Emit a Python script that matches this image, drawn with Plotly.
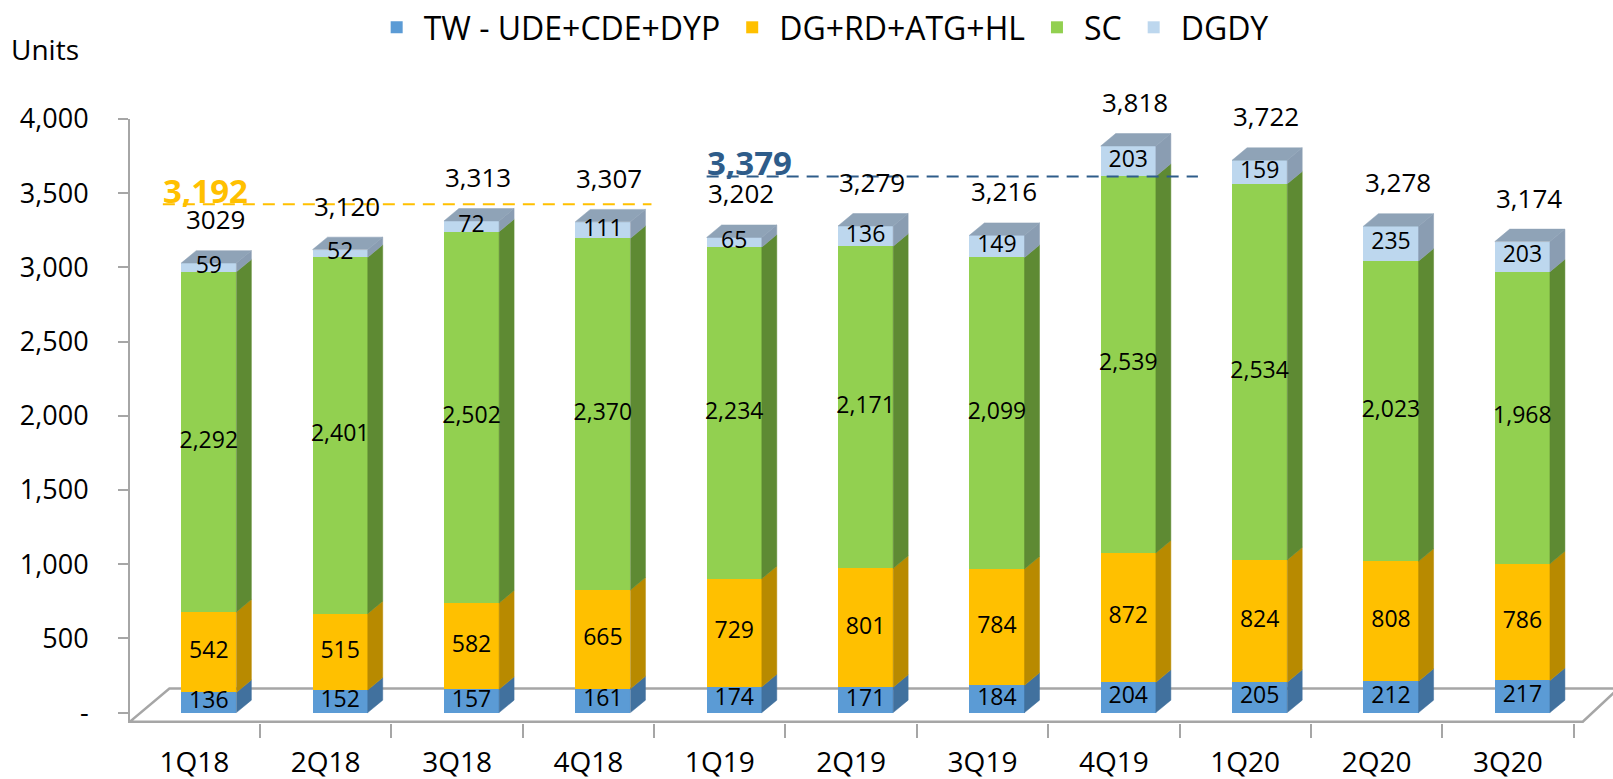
import plotly.graph_objects as go

# ---------------- data ----------------
quarters = ["1Q18", "2Q18", "3Q18", "4Q18", "1Q19", "2Q19", "3Q19", "4Q19", "1Q20", "2Q20", "3Q20"]
tw_ude_cde_dyp = [136, 152, 157, 161, 174, 171, 184, 204, 205, 212, 217]
dg_rd_atg_hl = [542, 515, 582, 665, 729, 801, 784, 872, 824, 808, 786]
sc = [2292, 2401, 2502, 2370, 2234, 2171, 2099, 2539, 2534, 2023, 1968]
dgdy = [59, 52, 72, 111, 65, 136, 149, 203, 159, 235, 203]
total_labels = ["3029", "3,120", "3,313", "3,307", "3,202", "3,279", "3,216", "3,818", "3,722", "3,278", "3,174"]
avg_groups = [(0, 3), (4, 7)]          # 2018 quarters, 2019 quarters
y_tick_vals = [0, 500, 1000, 1500, 2000, 2500, 3000, 3500, 4000]
y_tick_text = ["-", "500", "1,000", "1,500", "2,000", "2,500", "3,000", "3,500", "4,000"]

# ---------------- style ----------------
FONT = "Open Sans"
series = [
    ("TW - UDE+CDE+DYP", tw_ude_cde_dyp, "#5B9BD5", "#41719E"),
    ("DG+RD+ATG+HL", dg_rd_atg_hl, "#FFC000", "#B88A00"),
    ("SC", sc, "#92D050", "#5E8A33"),
    ("DGDY", dgdy, "#BDD7EE", "#8A9DB2"),
]
TOP_COLOR = "#8FA3B7"
AVG_COLORS = ["#FFC000", "#2E5C8A"]
AVG_PAD_L = [0.24, 0.10]
AVG_PAD_R = [0.48, 0.64]
BAR_W = 0.42
BAR_OFF = 0.11
DEPTH_X = 0.114
DEPTH_Y = 84
AVG_LIFT = 233
FLOOR_FRONT, FLOOR_BACK = -61, 162
FLOOR_DX = 0.27
X_MIN, X_MAX = -0.49, 10.8
Y_MIN, Y_MAX = -70, 4000
AXIS_GRAY = "#A6A6A6"

n = len(quarters)
xs = [i + BAR_OFF for i in range(n)]
totals = [sum(s[1][i] for s in series) for i in range(n)]

fig = go.Figure()

# front faces (stacked bars)
for name, vals, col, _ in series:
    fig.add_trace(go.Bar(
        x=xs, y=vals, name=name, width=BAR_W, marker=dict(color=col, line=dict(width=0)),
        hoverinfo="skip",
    ))

# side faces + labels
base = [0] * n
label_traces = []
for name, vals, col, side in series:
    px, py = [], []
    for i in range(n):
        b = base[i]
        t = b + vals[i]
        xr = xs[i] + BAR_W / 2
        px += [xr, xr + DEPTH_X, xr + DEPTH_X, xr, xr, None]
        py += [b, b + DEPTH_Y, t + DEPTH_Y, t, b, None]
    fig.add_trace(go.Scatter(
        x=px, y=py, mode="lines", fill="toself", fillcolor=side,
        line=dict(color=side, width=0.5), showlegend=False, hoverinfo="skip",
    ))
    label_traces.append(go.Scatter(
        x=xs, y=[base[i] + vals[i] / 2 for i in range(n)],
        text=[f"{v:,}" for v in vals], mode="text",
        textfont=dict(family=FONT, size=23, color="black"),
        showlegend=False, hoverinfo="skip", cliponaxis=False,
    ))
    base = [base[i] + vals[i] for i in range(n)]

# top faces
tx, ty = [], []
for i in range(n):
    xl, xr, T = xs[i] - BAR_W / 2, xs[i] + BAR_W / 2, totals[i]
    tx += [xl, xl + DEPTH_X, xr + DEPTH_X, xr, xl, None]
    ty += [T, T + DEPTH_Y, T + DEPTH_Y, T, T, None]
fig.add_trace(go.Scatter(
    x=tx, y=ty, mode="lines", fill="toself", fillcolor=TOP_COLOR,
    line=dict(color=TOP_COLOR, width=0.5), showlegend=False, hoverinfo="skip",
))

for tr in label_traces:
    fig.add_trace(tr)

# totals
for i in range(n):
    fig.add_annotation(
        x=xs[i] + 0.05, y=totals[i], text=total_labels[i], showarrow=False,
        yanchor="middle", yshift=44, font=dict(family=FONT, size=26, color="black"),
    )

# yearly averages (dashed)
for (a, b), col, pl, pr in zip(avg_groups, AVG_COLORS, AVG_PAD_L, AVG_PAD_R):
    avg = sum(totals[a:b + 1]) / (b - a + 1)
    x0, x1 = a - pl, b + pr
    yl = avg + AVG_LIFT
    fig.add_trace(go.Scatter(
        x=[x0, x1], y=[yl, yl], mode="lines",
        line=dict(color=col, width=2, dash="12px,8px"),
        showlegend=False, hoverinfo="skip",
    ))
    fig.add_annotation(
        x=x0, y=yl, text=f"<b>{round(avg):,}</b>", showarrow=False,
        xanchor="left", yanchor="middle", yshift=14, xshift=-2,
        font=dict(family=FONT, size=33, color=col),
    )

# floor
floor_path = (
    f"M {X_MIN},{FLOOR_FRONT} L {X_MIN + 11.06},{FLOOR_FRONT} "
    f"L {X_MIN + 11.06 + FLOOR_DX},{FLOOR_BACK} L {X_MIN + FLOOR_DX + 0.03},{FLOOR_BACK} Z"
)
fig.add_shape(type="path", path=floor_path, xref="x", yref="y", layer="below",
              line=dict(color=AXIS_GRAY, width=2.5), fillcolor="white")

fig.add_annotation(
    x=-0.0816, y=1.116, xref="paper", yref="paper", text="Units", showarrow=False,
    xanchor="left", yanchor="middle", font=dict(family=FONT, size=28, color="black"),
)

fig.update_layout(
    width=1613, height=779,
    margin=dict(l=130, r=0, t=119, b=56),
    barmode="stack",
    plot_bgcolor="white", paper_bgcolor="white",
    font=dict(family=FONT, color="black"),
    showlegend=True,
    legend=dict(
        orientation="h", x=0.4664, xanchor="center", y=1, yref="container", yanchor="top",
        font=dict(family=FONT, size=32, color="black"), traceorder="normal",
        bgcolor="rgba(0,0,0,0)", itemwidth=44,
    ),
    xaxis=dict(
        range=[X_MIN, X_MAX], tickmode="array", tickvals=list(range(n)), ticktext=quarters,
        showline=False, showgrid=False, zeroline=False, ticks="", automargin=False,
        tickfont=dict(family=FONT, size=28, color="black"), ticklabelstandoff=20,
        minor=dict(tickmode="array", tickvals=[i - 0.5 for i in range(n + 1)],
                   ticks="outside", ticklen=14, tickcolor=AXIS_GRAY, tickwidth=2),
    ),
    yaxis=dict(
        range=[Y_MIN, Y_MAX], tickmode="array", tickvals=y_tick_vals, ticktext=y_tick_text,
        showline=True, linecolor=AXIS_GRAY, linewidth=2, showgrid=False, zeroline=False,
        ticks="outside", ticklen=10, tickcolor=AXIS_GRAY, tickwidth=2, automargin=False,
        tickfont=dict(family=FONT, size=27, color="black"), ticklabelstandoff=24,
    ),
)

fig.write_html(
    "out.html",
    config={"displayModeBar": False},
    post_script="document.body.style.margin='0px';document.body.style.overflow='hidden';",
)
